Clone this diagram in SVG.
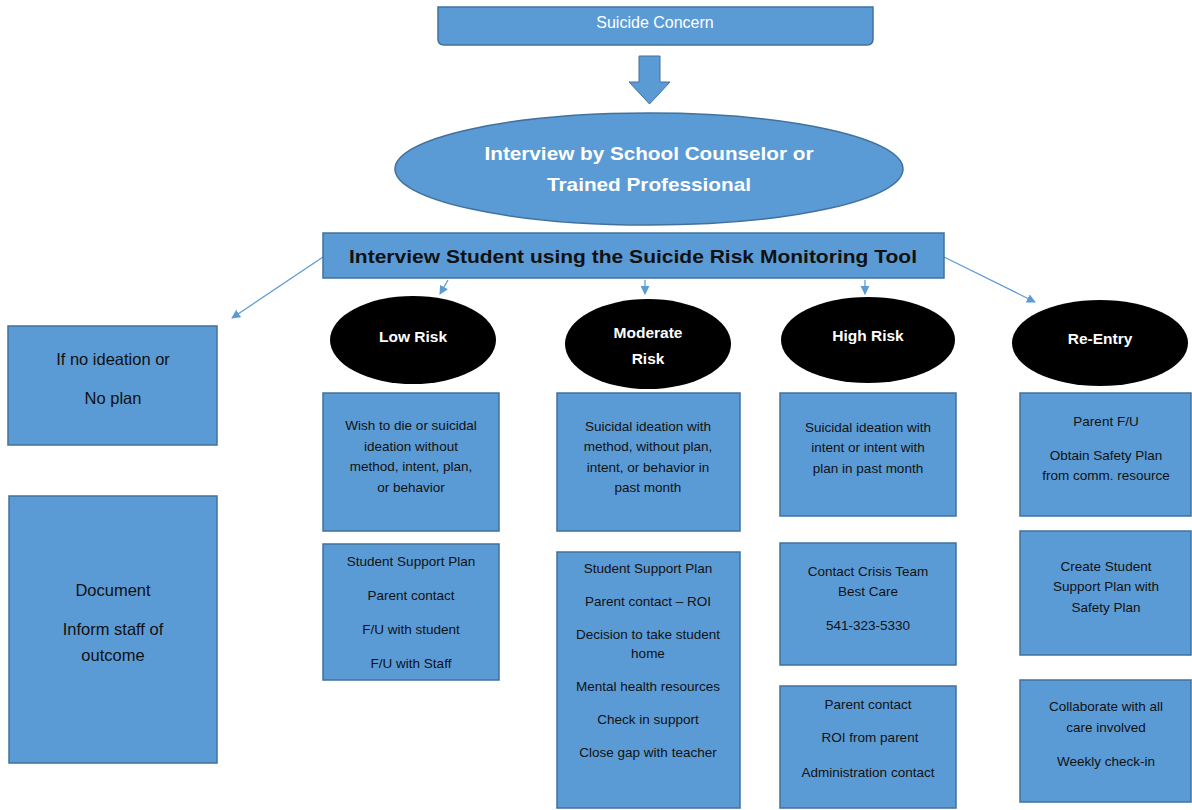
<svg xmlns="http://www.w3.org/2000/svg" width="1192" height="810" viewBox="0 0 1192 810">
<style>
.box{fill:#5b9bd5;stroke:#41719c;stroke-width:1.5}
.blk{fill:#000}
.t{font-family:"Liberation Sans",Arial,sans-serif;font-size:13.5px;fill:#111;text-anchor:middle;dominant-baseline:central}
.tl{font-family:"Liberation Sans",Arial,sans-serif;font-size:16.5px;fill:#111;text-anchor:middle;dominant-baseline:central}
.w{font-family:"Liberation Sans",Arial,sans-serif;font-size:15.5px;fill:#fff;font-weight:bold;text-anchor:middle;dominant-baseline:central}
.con{stroke:#5b9bd5;stroke-width:1.3;fill:none;marker-end:url(#ah)}
</style>
<defs>
<marker id="ah" viewBox="0 0 10 10" refX="9" refY="5" markerWidth="9" markerHeight="9" markerUnits="userSpaceOnUse" orient="auto">
<path d="M0,0 L10,5 L0,10 Z" fill="#5b9bd5"/>
</marker>
</defs>
<rect width="1192" height="810" fill="#fff"/>

<g id="connectors">
<path d="M639,56 H660 V82 H670 L649.5,104 L629,82 H639 Z" fill="#5b9bd5" stroke="#41719c" stroke-width="1"/>
<line class="con" x1="323" y1="257" x2="232" y2="318"/>
<line class="con" x1="448" y1="280" x2="440" y2="294"/>
<line class="con" x1="645" y1="280" x2="645" y2="294"/>
<line class="con" x1="865" y1="280" x2="865" y2="294"/>
<line class="con" x1="944" y1="257" x2="1035" y2="302"/>
</g>

<g id="suicide-concern">
<path class="box" d="M438,7 H873 V39 Q873,45 867,45 H444 Q438,45 438,39 Z"/>
<text class="w" x="655" y="22" style="font-weight:normal;font-size:16px">Suicide Concern</text>
</g>

<g id="interview-counselor">
<ellipse class="box" cx="649" cy="169" rx="254" ry="56"/>
<text class="w" x="649" y="153" style="font-size:19px" textLength="329" lengthAdjust="spacingAndGlyphs">Interview by School Counselor or</text>
<text class="w" x="649" y="184" style="font-size:19px" textLength="204" lengthAdjust="spacingAndGlyphs">Trained Professional</text>
</g>

<g id="interview-student">
<rect class="box" x="323" y="233" width="621" height="45"/>
<text class="w" x="633" y="256" style="fill:#111;font-size:19px" textLength="568" lengthAdjust="spacingAndGlyphs">Interview Student using the Suicide Risk Monitoring Tool</text>
</g>

<g id="low-risk">
<ellipse class="blk" cx="413" cy="340" rx="83" ry="44"/>
<text class="w" x="413" y="336">Low Risk</text>
</g>
<g id="moderate-risk">
<ellipse class="blk" cx="648" cy="344" rx="83" ry="45"/>
<text class="w" x="648" y="332">Moderate</text>
<text class="w" x="648" y="358">Risk</text>
</g>
<g id="high-risk">
<ellipse class="blk" cx="868" cy="340" rx="87" ry="43"/>
<text class="w" x="868" y="335">High Risk</text>
</g>
<g id="re-entry">
<ellipse class="blk" cx="1100" cy="343" rx="88" ry="43"/>
<text class="w" x="1100" y="338">Re-Entry</text>
</g>

<g id="no-ideation">
<rect class="box" x="8" y="326" width="209" height="119"/>
<text class="tl" x="113" y="359">If no ideation or</text>
<text class="tl" x="113" y="398">No plan</text>
</g>
<g id="document">
<rect class="box" x="9" y="496" width="208" height="267"/>
<text class="tl" x="113" y="590">Document</text>
<text class="tl" x="113" y="629">Inform staff of</text>
<text class="tl" x="113" y="655">outcome</text>
</g>

<g id="low-desc">
<rect class="box" x="323" y="393" width="176" height="138"/>
<text class="t" x="411" y="425">Wish to die or suicidal</text>
<text class="t" x="411" y="446">ideation without</text>
<text class="t" x="411" y="466">method, intent, plan,</text>
<text class="t" x="411" y="487">or behavior</text>
</g>
<g id="low-actions">
<rect class="box" x="323" y="544" width="176" height="136"/>
<text class="t" x="411" y="561">Student Support Plan</text>
<text class="t" x="411" y="595">Parent contact</text>
<text class="t" x="411" y="629">F/U with student</text>
<text class="t" x="411" y="663">F/U with Staff</text>
</g>

<g id="moderate-desc">
<rect class="box" x="557" y="393" width="183" height="138"/>
<text class="t" x="648" y="426">Suicidal ideation with</text>
<text class="t" x="648" y="446">method, without plan,</text>
<text class="t" x="648" y="467">intent, or behavior in</text>
<text class="t" x="648" y="487">past month</text>
</g>
<g id="moderate-actions">
<rect class="box" x="557" y="552" width="183" height="256"/>
<text class="t" x="648" y="568">Student Support Plan</text>
<text class="t" x="648" y="601">Parent contact – ROI</text>
<text class="t" x="648" y="634">Decision to take student</text>
<text class="t" x="648" y="653">home</text>
<text class="t" x="648" y="686">Mental health resources</text>
<text class="t" x="648" y="719">Check in support</text>
<text class="t" x="648" y="752">Close gap with teacher</text>
</g>

<g id="high-desc">
<rect class="box" x="780" y="393" width="176" height="123"/>
<text class="t" x="868" y="427">Suicidal ideation with</text>
<text class="t" x="868" y="447">intent or intent with</text>
<text class="t" x="868" y="468">plan in past month</text>
</g>
<g id="high-crisis">
<rect class="box" x="780" y="543" width="176" height="122"/>
<text class="t" x="868" y="571">Contact Crisis Team</text>
<text class="t" x="868" y="591">Best Care</text>
<text class="t" x="868" y="625">541-323-5330</text>
</g>
<g id="high-contacts">
<rect class="box" x="780" y="686" width="176" height="122"/>
<text class="t" x="868" y="704">Parent contact</text>
<text class="t" x="870" y="737">ROI from parent</text>
<text class="t" x="868" y="772">Administration contact</text>
</g>

<g id="reentry-parent">
<rect class="box" x="1020" y="393" width="171" height="123"/>
<text class="t" x="1106" y="421">Parent F/U</text>
<text class="t" x="1106" y="455">Obtain Safety Plan</text>
<text class="t" x="1106" y="475">from comm. resource</text>
</g>
<g id="reentry-plan">
<rect class="box" x="1020" y="531" width="171" height="124"/>
<text class="t" x="1106" y="566">Create Student</text>
<text class="t" x="1106" y="586">Support Plan with</text>
<text class="t" x="1106" y="607">Safety Plan</text>
</g>
<g id="reentry-collab">
<rect class="box" x="1020" y="680" width="171" height="122"/>
<text class="t" x="1106" y="706">Collaborate with all</text>
<text class="t" x="1106" y="727">care involved</text>
<text class="t" x="1106" y="761">Weekly check-in</text>
</g>
</svg>
